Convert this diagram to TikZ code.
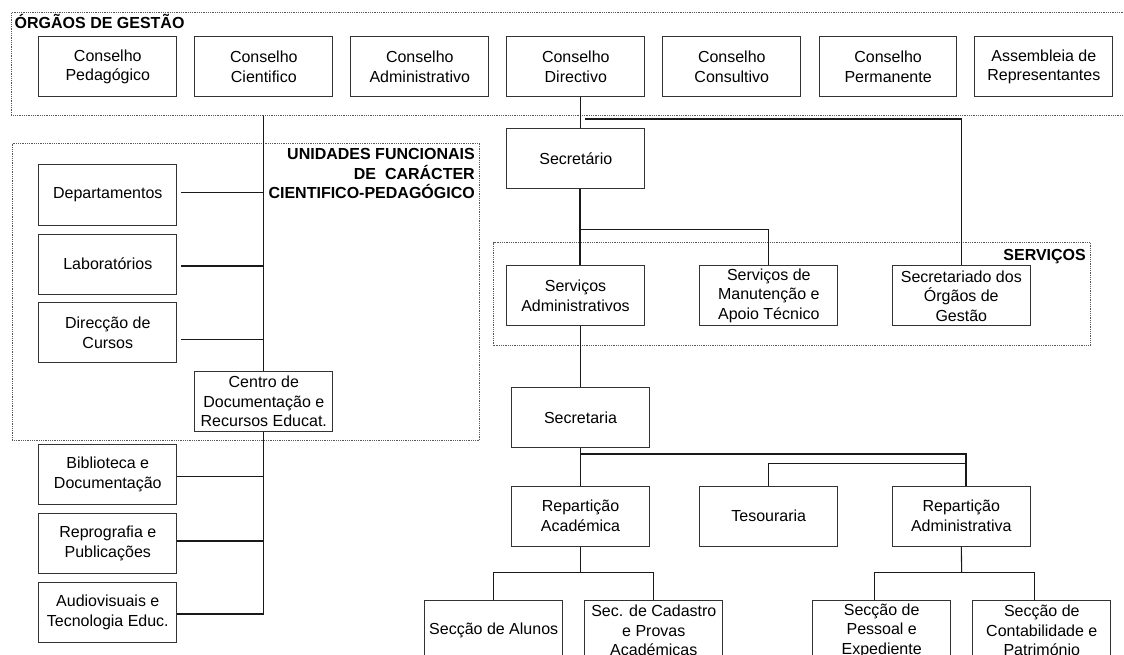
\documentclass[tikz,border=0pt]{standalone}
\usepackage{fontspec}
\setmainfont{Liberation Sans}
\usetikzlibrary{calc}
\begin{document}
\begin{tikzpicture}[x=1pt,y=-1pt,
  box/.style={draw=black!80, line width=1pt, minimum width=137.7pt, minimum height=60pt,
              inner sep=0pt, align=center, font=\fontsize{16}{19.5}\selectfont},
  frame/.style={draw=black!65, line width=0.9pt, dash pattern=on 0.9pt off 0.9pt,
              inner sep=0pt, anchor=north west},
  conn/.style={draw=black!90, line width=1.1pt},
  ttl/.style={font=\fontsize{16}{19.5}\selectfont\bfseries, inner sep=0pt}]
\useasboundingbox (0,0) rectangle (1124,655);
\clip (0,0) rectangle (1124,655);

% frames
\node[frame, minimum width=1140pt, minimum height=102.7pt] (og) at (11,12.3) {};
\node[frame, minimum width=467.6pt, minimum height=297.3pt] (uf) at (11.7,142.7) {};
\node[frame, minimum width=596.7pt, minimum height=102.7pt] (sv) at (493.3,242.3) {};

% titles
\node[ttl, anchor=base west] (ogt) at (14.5,28.3) {ÓRGÃOS DE GESTÃO};
\node[ttl, anchor=north east, align=right] (uft) at (475,148.5)
  {UNIDADES FUNCIONAIS\\DE\ \ CARÁCTER\\CIENTIFICO-PEDAGÓGICO};
\node[ttl, anchor=base east] (svt) at (1086,260.3) {SERVIÇOS};

% top row
\node[box] (cp)  at (107.8,66.7)  {Conselho\\Pedagógico};
\node[box] (cc)  at (263.8,66.7)  {Conselho\\Cientifico};
\node[box] (ca)  at (419.8,66.7)  {Conselho\\Administrativo};
\node[box] (cd)  at (575.8,66.7)  {Conselho\\Directivo};
\node[box] (cco) at (731.8,66.7)  {Conselho\\Consultivo};
\node[box] (cpe) at (888.1,66.7)  {Conselho\\Permanente};
\node[box] (ar)  at (1043.8,66.7) {Assembleia de\\Representantes};

% left column
\node[box] (dep) at (107.8,195)   {Departamentos};
\node[box] (lab) at (107.8,264)   {Laboratórios};
\node[box] (dcu) at (107.8,332.7) {Direcção de\\Cursos};
\node[box] (cen) at (263.8,401.7) {Centro de\\Documentação e\\Recursos Educat.};
\node[box] (bib) at (107.8,474.5) {Biblioteca e\\Documentação};
\node[box] (rep) at (107.8,543.3) {Reprografia e\\Publicações};
\node[box] (aud) at (107.8,612.5) {Audiovisuais e\\Tecnologia Educ.};

% right part
\node[box] (sec)  at (575.8,158.3) {Secretário};
\node[box] (sa)   at (575.5,295.8) {Serviços\\Administrativos};
\node[box] (man)  at (768.8,295.8) {Serviços de\\Manutenção e\\Apoio Técnico};
\node[box] (sdo)  at (961.3,295.8) {Secretariado dos\\Órgãos de\\Gestão};
\node[box] (secr) at (580.5,417.3) {Secretaria};
\node[box] (racad) at (580.5,516)  {Repartição\\Académica};
\node[box] (tes)  at (768.7,516)   {Tesouraria};
\node[box] (radm) at (961.3,516)   {Repartição\\Administrativa};
\node[box] (alu)  at (493.7,630.7) {Secção de Alunos};
\node[box] (cad)  at (653.8,630.7) {Sec. de Cadastro\\e Provas\\Académicas};
\node[box] (pes)  at (881.7,630.7) {Secção de\\Pessoal e\\Expediente};
\node[box] (con)  at (1041.8,630.7) {Secção de\\Contabilidade e\\Património};

% left spine
\draw[conn] (og.south -| cen.north) -- (cen.north);
\draw[conn] (cen.south) -- ([yshift=-1.5pt]aud.east -| cen.south) -- ([yshift=-1.5pt]aud.east);
\draw[conn] ([xshift=4.3pt,yshift=2.3pt]dep.east) -- ([yshift=2.3pt]dep.east -| cen.north);
\draw[conn] ([xshift=4.3pt,yshift=-2pt]lab.east) -- ([yshift=-2pt]lab.east -| cen.north);
\draw[conn] ([xshift=4.3pt,yshift=-6.6pt]dcu.east) -- ([yshift=-6.6pt]dcu.east -| cen.north);
\draw[conn] ([yshift=-2.2pt]bib.east) -- ([yshift=-2.2pt]bib.east -| cen.south);
\draw[conn] ([yshift=2.3pt]rep.east) -- ([yshift=2.3pt]rep.east -| cen.south);

% directivo -> secretario, secretariado
\draw[conn] ([xshift=4.5pt]cd.south) -- ([xshift=4.5pt]sec.north);
\coordinate (s0) at (585,119);
\draw[conn] (s0) -| (sdo.north);

% secretario -> servicos
\draw[conn] ([xshift=4.2pt]sec.south) -- ([xshift=4.2pt]sec.south |- sa.north);
\coordinate (b1) at (580,229.3);
\draw[conn] (b1) -| (man.north);
\draw[conn] (sa.south -| secr.north) -- (secr.north);

% secretaria bus
\draw[conn] (secr.south) -- (racad.north);
\coordinate (b2) at (580.5,454);
\coordinate (j2) at (966,463.3);
\draw[conn] (b2) -- (b2 -| j2) -- (j2 |- radm.north);
\draw[conn] (tes.north) |- (j2);

% reparticao academica
\coordinate (b3) at (580.5,572.7);
\draw[conn] (racad.south) -- (b3);
\draw[conn] (alu.north) |- (b3) -| (cad.north);

% reparticao administrativa
\coordinate (b4) at (961.7,572.7);
\draw[conn] (radm.south) -- (b4);
\draw[conn] ([xshift=-7.4pt]pes.north) |- (b4) -| ([xshift=-7.5pt]con.north);
\end{tikzpicture}
\end{document}
